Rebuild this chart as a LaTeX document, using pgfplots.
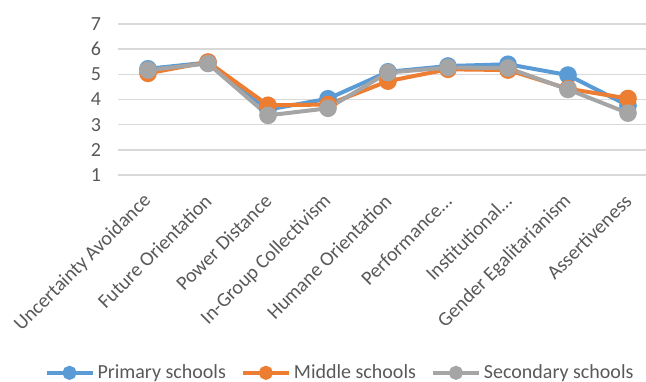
\documentclass[border=0pt]{standalone}
\usepackage{fontspec}
\setmainfont{Carlito}
\usepackage{pgfplots}
\pgfplotsset{compat=1.18}
\definecolor{cBlue}{HTML}{5B9BD5}
\definecolor{cOrange}{HTML}{ED7D31}
\definecolor{cGray}{HTML}{A5A5A5}
\definecolor{cText}{HTML}{595959}
\definecolor{cGrid}{HTML}{D9D9D9}

\begin{document}
\begin{tikzpicture}
\useasboundingbox (0,0) rectangle (323pt,190.5pt);
\begin{axis}[
  at={(59pt,103pt)}, anchor=south west,
  scale only axis, width=264pt, height=75.5pt,
  xmin=-0.5, xmax=8.3, ymin=1, ymax=7,
  ytick={1,...,7},
  xtick={0,...,8},
  xticklabels={Uncertainty Avoidance, Future Orientation, Power Distance,
    In-Group Collectivism, Humane Orientation, Performance…,
    Institutional…, Gender Egalitarianism, Assertiveness},
  axis line style={draw=none},
  major tick length=0pt,
  ymajorgrids, grid style={cGrid, line width=0.75pt},
  tick label style={font=\fontsize{10}{12}\selectfont, text=cText},
  /pgf/number format/assume math mode=true,
  xticklabel style={xshift=2.5pt, yshift=-9pt, rotate=45, anchor=east},
  yticklabel style={xshift=-5pt},
  clip=false,
  every axis plot/.append style={line width=2pt, mark=*, mark size=3.4pt},
  legend columns=-1,
  legend style={at={(0.4214,-1.31)}, anchor=center, draw=none, fill=none,
    font=\fontsize{10}{12}\selectfont, text=cText,
    /tikz/every even column/.append style={column sep=6pt},
    nodes={inner xsep=1.5pt}},
  legend image code/.code={%
    \draw[#1, mark size=2.5pt, mark repeat=2, mark phase=2]
      plot coordinates {(0pt,0pt) (11.5pt,0pt) (23pt,0pt)};},
]
\addplot[cBlue, mark options={fill=cBlue, draw=cBlue, solid}] coordinates {
  (0,5.22) (1,5.47) (2,3.60) (3,4.03) (4,5.10) (5,5.33) (6,5.40) (7,4.97) (8,3.76)};
\addlegendentry{Primary schools}
\addplot[cOrange, mark options={fill=cOrange, draw=cOrange, solid}] coordinates {
  (0,5.04) (1,5.49) (2,3.77) (3,3.80) (4,4.73) (5,5.20) (6,5.17) (7,4.43) (8,4.04)};
\addlegendentry{Middle schools}
\addplot[cGray, mark options={fill=cGray, draw=cGray, solid}] coordinates {
  (0,5.17) (1,5.43) (2,3.37) (3,3.65) (4,5.07) (5,5.27) (6,5.25) (7,4.40) (8,3.46)};
\addlegendentry{Secondary schools}
\end{axis}
\end{tikzpicture}
\end{document}
